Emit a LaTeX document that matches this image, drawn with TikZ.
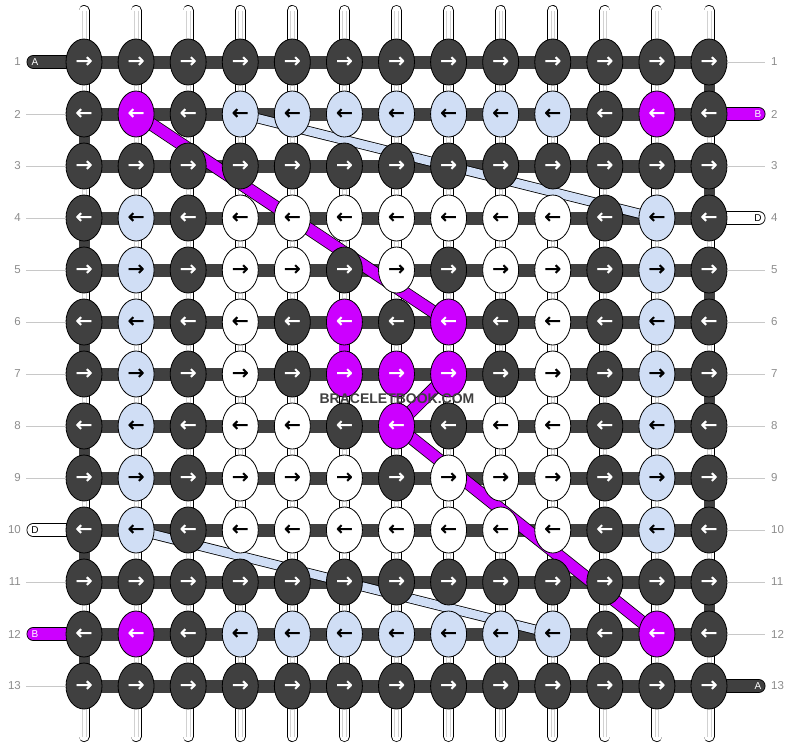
\documentclass[tikz,border=0pt]{standalone}
\usepackage{fontspec}
\setmainfont{Liberation Sans}
\newfontfamily\arrowfont{DejaVu Sans}[FakeBold=1.6]
\usetikzlibrary{shapes.geometric}
\definecolor{dk}{HTML}{404040}
\definecolor{mg}{HTML}{CC00FF}
\definecolor{lb}{HTML}{D0DEF5}
\definecolor{numgray}{HTML}{8C8C8C}
\definecolor{lngray}{HTML}{C8C8C8}
\colorlet{fd}{dk}\colorlet{fm}{mg}\colorlet{fb}{lb}\colorlet{fw}{white}
\colorlet{td}{white}\colorlet{tm}{white}\colorlet{tb}{black}\colorlet{tw}{black}
\pgfdeclarelayer{strands}\pgfdeclarelayer{bars}\pgfdeclarelayer{diags}
\pgfsetlayers{strands,bars,diags,main}
\tikzset{
  knot/.style={ellipse, draw=black, line width=0.8pt, minimum width=36pt, minimum height=46pt,
    inner sep=0pt, font=\arrowfont\fontsize{20}{20}\selectfont},
  vsout/.style={line width=11pt, draw=black, line cap=round},
  vsin/.style={line width=9.4pt, draw=white, line cap=round},
  vsline/.style={line width=0.6pt, draw=black!18},
  hbar/.style={line width=13pt, draw=dk},
  vbar/.style={line width=11pt, draw=dk},
  endout/.style={line width=14pt, draw=black, line cap=round},
  endin/.style={line width=12.4pt, line cap=round},
  endlbl/.style={font=\fontsize{10}{10}\selectfont, inner sep=0pt},
  numlbl/.style={font=\fontsize{11.5}{12}\selectfont, text=numgray, inner sep=0pt},
  guide/.style={draw=lngray, line width=1pt},
  magout/.style={line width=13pt, draw=black},
  magin/.style={line width=11.4pt, draw=mg},
  blout/.style={line width=10pt, draw=black},
  blin/.style={line width=8.4pt, draw=lb},
}
\begin{document}
\begin{tikzpicture}[x=1pt,y=-1pt]
\useasboundingbox (0,0) rectangle (792,748);
% knots
\foreach \codes [count=\r] in {
 {d,d,d,d,d,d,d,d,d,d,d,d,d},
 {d,m,d,b,b,b,b,b,b,b,d,m,d},
 {d,d,d,d,d,d,d,d,d,d,d,d,d},
 {d,b,d,w,w,w,w,w,w,w,d,b,d},
 {d,b,d,w,w,d,w,d,w,w,d,b,d},
 {d,b,d,w,d,m,d,m,d,w,d,b,d},
 {d,b,d,w,d,m,m,m,d,w,d,b,d},
 {d,b,d,w,w,d,m,d,w,w,d,b,d},
 {d,b,d,w,w,w,d,w,w,w,d,b,d},
 {d,b,d,w,w,w,w,w,w,w,d,b,d},
 {d,d,d,d,d,d,d,d,d,d,d,d,d},
 {d,m,d,b,b,b,b,b,b,b,d,m,d},
 {d,d,d,d,d,d,d,d,d,d,d,d,d}}{
  \foreach \k [count=\c] in \codes {
    \node[knot, fill=f\k, text=t\k] (k-\r-\c) at ({84+(\c-1)*52.083},{62+(\r-1)*52}) {\ifodd\r →\else ←\fi};
  }
}
% vertical strands
\begin{pgfonlayer}{strands}
\foreach \c in {1,...,13}{
  \coordinate (st-\c) at ({84+(\c-1)*52.083},10.5);
  \coordinate (sb-\c) at ({84+(\c-1)*52.083},736.5);
  \draw[vsout] (st-\c) -- (sb-\c);
  \draw[vsin] (st-\c) -- (sb-\c);
  \draw[vsline] ([xshift=-1.8pt]st-\c) -- ([xshift=-1.8pt]sb-\c);
  \draw[vsline] ([xshift=1.8pt]st-\c) -- ([xshift=1.8pt]sb-\c);
}
\end{pgfonlayer}
% horizontal bars, turns, ends
\begin{pgfonlayer}{bars}
\foreach \r in {1,...,13} \draw[hbar] (k-\r-1.center) -- (k-\r-13.center);
\foreach \r [evaluate=\r as \n using int(\r+1)] in {1,3,...,11} \draw[vbar] (k-\r-13.center) -- (k-\n-13.center);
\foreach \r [evaluate=\r as \n using int(\r+1)] in {2,4,...,12} \draw[vbar] (k-\r-1.center) -- (k-\n-1.center);
\coordinate (eA1) at (33.5,62);
\coordinate (eB2) at (758.5,114);
\coordinate (eD4) at (758.5,218);
\coordinate (eD10) at (33.5,530);
\coordinate (eB12) at (33.5,634);
\coordinate (eA13) at (758.5,686);
\draw[endout] (k-1-1.center) -- (eA1);   \draw[endin, draw=dk] (k-1-1.center) -- (eA1);
\draw[endout] (k-13-13.center) -- (eA13); \draw[endin, draw=dk] (k-13-13.center) -- (eA13);
\draw[endout] (k-2-13.center) -- (eB2);  \draw[endin, draw=mg] (k-2-13.center) -- (eB2);
\draw[endout] (k-12-1.center) -- (eB12); \draw[endin, draw=mg] (k-12-1.center) -- (eB12);
\draw[endout] (k-4-13.center) -- (eD4);  \draw[endin, draw=white] (k-4-13.center) -- (eD4);
\draw[endout] (k-10-1.center) -- (eD10); \draw[endin, draw=white] (k-10-1.center) -- (eD10);
\end{pgfonlayer}
\node[endlbl, text=white] (lA1) at (35,62) {A};
\node[endlbl, text=white] (lA13) at (758,686) {A};
\node[endlbl, text=white] (lB2) at (758,114) {B};
\node[endlbl, text=white] (lB12) at (35,634) {B};
\node[endlbl, text=black] (lD4) at (758,218) {D};
\node[endlbl, text=black] (lD10) at (35,530) {D};
% diagonals
\begin{pgfonlayer}{diags}
\draw[blout] (k-2-4.center) -- (k-4-12.center);
\draw[blin] (k-2-4.center) -- (k-4-12.center);
\draw[blout] (k-10-2.center) -- (k-12-10.center);
\draw[blin] (k-10-2.center) -- (k-12-10.center);
\draw[magout] (k-2-2.center) -- (k-6-8.center);
\draw[magin] (k-2-2.center) -- (k-6-8.center);
\draw[magout] (k-7-8.center) -- (k-8-7.center) -- (k-12-12.center);
\draw[magin] (k-7-8.center) -- (k-8-7.center) -- (k-12-12.center);
\draw[line width=10pt, draw=mg] (k-6-6.center) -- (k-7-6.center);
\end{pgfonlayer}
% row numbers and guide lines
\foreach \r in {1,...,13}{
  \node[numlbl, anchor=east] (nl-\r) at (21,{62+(\r-1)*52}) {\r};
  \node[numlbl, anchor=west] (nr-\r) at (771,{62+(\r-1)*52}) {\r};
  \coordinate (gl-\r) at (26,{62+(\r-1)*52});
  \coordinate (gr-\r) at (765,{62+(\r-1)*52});
}
\foreach \r in {2,3,4,5,6,7,8,9,11,13} \draw[guide] (gl-\r) -- (k-\r-1.west);
\foreach \r in {1,3,5,6,7,8,9,10,11,12} \draw[guide] (k-\r-13.east) -- (gr-\r);
% watermark
\node[font=\bfseries\fontsize{14}{14}\selectfont, text=dk, inner sep=0pt] (wm) at (397,399) {BRACELETBOOK.COM};
\end{tikzpicture}
\end{document}
